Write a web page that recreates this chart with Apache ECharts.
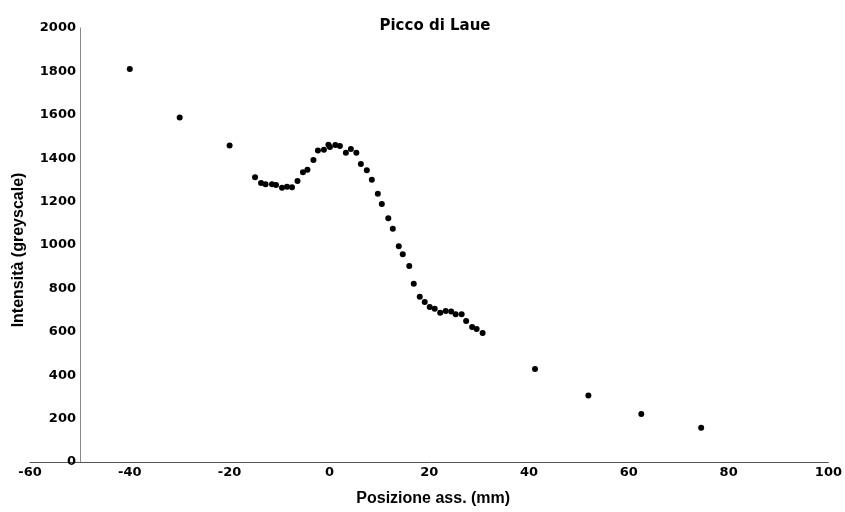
<!DOCTYPE html>
<html>
<head>
<meta charset="utf-8">
<script src="https://cdn.jsdelivr.net/npm/echarts@6/dist/echarts.min.js"></script>
<style>html,body{margin:0;padding:0;background:#fff;}#c{width:845px;height:512px;}</style>
</head>
<body>
<div id="c"></div>
<script>
var positions = [-40, -30, -20, -14.9, -13.7, -12.8, -11.5, -10.7, -9.5, -8.5, -7.5, -6.4, -5.3, -4.4, -3.2, -2.3, -1.1, -0.2, 0.1, 1.2, 2.1, 3.3, 4.3, 5.4, 6.3, 7.5, 8.5, 9.7, 10.5, 11.8, 12.7, 13.9, 14.7, 16.0, 16.9, 18.1, 19.1, 20.1, 21.1, 22.2, 23.3, 24.4, 25.3, 26.5, 27.4, 28.6, 29.5, 30.7, 41.2, 51.9, 62.5, 74.5];
var intensities = [1811, 1588, 1458, 1312, 1286, 1280, 1280, 1276, 1264, 1269, 1266, 1295, 1335, 1347, 1392, 1436, 1439, 1462, 1452, 1461, 1456, 1425, 1442, 1425, 1373, 1344, 1301, 1236, 1189, 1123, 1075, 994, 957, 903, 822, 762, 737, 714, 706, 688, 696, 693, 681, 681, 650, 622, 613, 594, 428, 307, 221, 158];
var xTicks = [-60, -40, -20, 0, 20, 40, 60, 80, 100];
var yTicks = [0, 200, 400, 600, 800, 1000, 1200, 1400, 1600, 1800, 2000];

var points = positions.map(function (x, i) { return [x, intensities[i]]; });

var chart = echarts.init(document.getElementById('c'), null, {renderer: 'canvas'});
chart.setOption({
  animation: false,
  backgroundColor: '#ffffff',
  title: {
    text: 'Picco di Laue',
    left: 430, textAlign: 'center',
    top: 14,
    textStyle: {fontFamily: 'DejaVu Sans', fontWeight: 'bold', fontSize: 15, color: '#000'}
  },
  grid: {left: 30, right: 16, top: 28, bottom: 50, containLabel: false},
  xAxis: {
    type: 'value',
    min: xTicks[0], max: xTicks[xTicks.length - 1], interval: 20,
    name: 'Posizione ass. (mm)',
    nameLocation: 'middle', nameGap: 29,
    nameTextStyle: {fontFamily: 'Liberation Sans', fontWeight: 'bold', fontSize: 16, color: '#000', padding: [0, 0, 0, 8]},
    axisLine: {onZero: false, lineStyle: {color: '#555', width: 1}},
    axisTick: {show: false},
    splitLine: {show: false},
    axisLabel: {margin: 4, fontFamily: 'DejaVu Sans', fontWeight: 'bold', fontSize: 13, color: '#000',
      formatter: function (v) { return String(v); }}
  },
  yAxis: {
    type: 'value',
    min: yTicks[0], max: yTicks[yTicks.length - 1], interval: 200,
    offset: -50,
    name: 'Intensità (greyscale)',
    nameLocation: 'middle', nameGap: 53,
    nameTextStyle: {fontFamily: 'Liberation Sans', fontWeight: 'bold', fontSize: 16, color: '#000', padding: [0, 10, 0, 0]},
    axisLine: {show: true, onZero: false, lineStyle: {color: '#888', width: 1}},
    axisTick: {show: false},
    splitLine: {show: false},
    axisLabel: {margin: 4, fontFamily: 'DejaVu Sans', fontWeight: 'bold', fontSize: 13, color: '#000',
      formatter: function (v) { return String(v); }}
  },
  series: [{
    type: 'scatter',
    data: points,
    symbol: 'circle',
    symbolSize: 6,
    itemStyle: {color: '#000', opacity: 1}
  }]
});
</script>
</body>
</html>
